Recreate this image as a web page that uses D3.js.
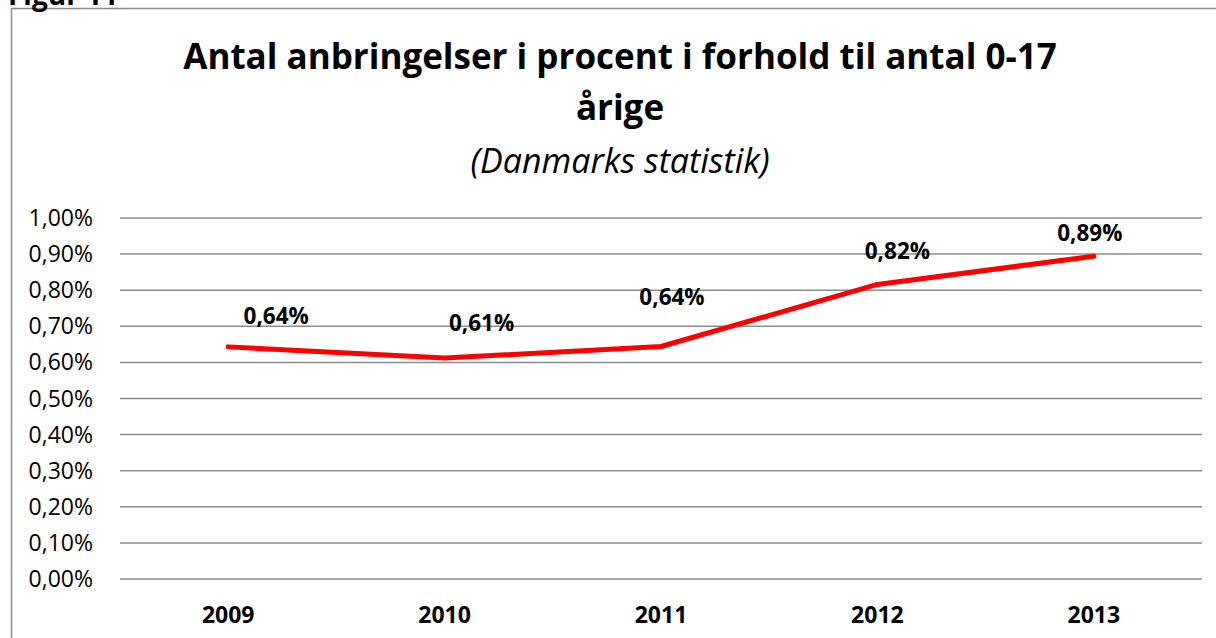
<!DOCTYPE html>
<html>
<head>
<meta charset="utf-8">
<script src="https://cdn.jsdelivr.net/npm/d3@7"></script>
<style>
  body { margin: 0; background: #fff; }
  svg { display: block; font-family: "Open Sans", "Noto Sans", sans-serif; }
</style>
</head>
<body>
<svg id="chart" width="1216" height="638"></svg>
<script>
// data
const years = ["2009", "2010", "2011", "2012", "2013"];
const shares = [0.00643, 0.00612, 0.00644, 0.00816, 0.00894];
const yTicks = [0, 0.001, 0.002, 0.003, 0.004, 0.005, 0.006, 0.007, 0.008, 0.009, 0.010];
// hand-placed data labels (offset from point, px)
const labelDx = [48, 37, 11, 20, -4];
const labelDy = [-31, -35, -49, -33, -23];

const svg = d3.select("#chart");
const margin = { top: 218, right: 14, bottom: 59, left: 120 };
const width = 1216 - margin.left - margin.right;
const height = 638 - margin.top - margin.bottom;

// chart frame (cut off at the right and bottom)
svg.append("rect")
    .attr("x", 11.5).attr("y", 8.5)
    .attr("width", 1220).attr("height", 640)
    .attr("fill", "none")
    .attr("stroke", "#8c8c8c")
    .attr("stroke-width", 1.5);

svg.append("text")
    .attr("x", 8).attr("y", 5)
    .style("font-size", "28px").style("font-weight", "bold")
    .text("Figur 11");

svg.append("text")
    .attr("x", 620).attr("y", 69)
    .attr("text-anchor", "middle")
    .style("font-size", "35px").style("font-weight", "bold")
    .text("Antal anbringelser i procent i forhold til antal 0-17");
svg.append("text")
    .attr("x", 620).attr("y", 120)
    .attr("text-anchor", "middle")
    .style("font-size", "35px").style("font-weight", "bold")
    .text("årige");
svg.append("text")
    .attr("x", 620).attr("y", 173)
    .attr("text-anchor", "middle")
    .style("font-size", "34px").style("font-style", "italic")
    .text("(Danmarks statistik)");

const g = svg.append("g")
    .attr("transform", `translate(${margin.left},${margin.top})`);

const x = d3.scaleBand().domain(years).range([0, width]);
const y = d3.scaleLinear().domain([0, 0.01]).range([height, 0]);

const pct = v => d3.format(".2f")(v * 100).replace(".", ",") + "%";

// gridlines
g.selectAll(".grid")
    .data(yTicks)
    .enter()
    .append("line")
    .attr("class", "grid")
    .attr("x1", 0).attr("x2", width)
    .attr("y1", d => y(d)).attr("y2", d => y(d))
    .style("stroke", "#8c8c8c")
    .style("stroke-width", 1.5);

// y tick labels
g.selectAll(".ylab")
    .data(yTicks)
    .enter()
    .append("text")
    .attr("class", "ylab")
    .attr("x", -27)
    .attr("y", d => y(d))
    .attr("dy", "0.35em")
    .attr("text-anchor", "end")
    .style("font-size", "23px")
    .text(d => pct(d));

// x labels
g.selectAll(".xlab")
    .data(years)
    .enter()
    .append("text")
    .attr("class", "xlab")
    .attr("x", d => x(d) + x.bandwidth() / 2)
    .attr("y", height + 36)
    .attr("dy", "0.35em")
    .attr("text-anchor", "middle")
    .style("font-size", "23px").style("font-weight", "bold")
    .text(d => d);

const line = d3.line()
    .x((d, i) => x(years[i]) + x.bandwidth() / 2)
    .y(d => y(d));

g.append("path")
    .datum(shares)
    .attr("d", line)
    .attr("fill", "none")
    .attr("stroke", "#ff0000")
    .attr("stroke-width", 5)
    .attr("stroke-linecap", "round")
    .attr("stroke-linejoin", "round");

g.selectAll(".dlab")
    .data(shares)
    .enter()
    .append("text")
    .attr("class", "dlab")
    .attr("x", (d, i) => x(years[i]) + x.bandwidth() / 2 + labelDx[i])
    .attr("y", (d, i) => y(d) + labelDy[i])
    .attr("dy", "0.35em")
    .attr("text-anchor", "middle")
    .style("font-size", "22.5px").style("font-weight", "bold")
    .text(d => pct(d));
</script>
</body>
</html>
